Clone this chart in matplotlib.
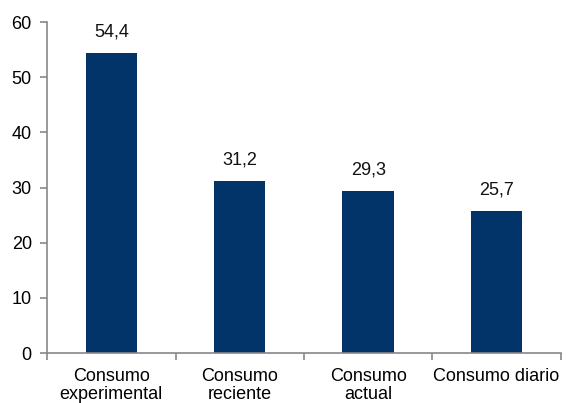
import numpy as np
import matplotlib
matplotlib.use("Agg")
import matplotlib.pyplot as plt

categories = ["Consumo\nexperimental", "Consumo\nreciente", "Consumo\nactual", "Consumo diario"]
values = [54.4, 31.2, 29.3, 25.7]
value_labels = ["54,4", "31,2", "29,3", "25,7"]

plt.rcParams['font.family'] = ['Liberation Sans', 'DejaVu Sans']

fig = plt.figure(figsize=(5.74, 4.03), dpi=100)
ax = fig.add_axes([0.082, 0.124, 0.895, 0.821])

x = np.arange(len(categories))
bars = ax.bar(x, values, width=0.40, color='#02346a', zorder=2)

for b, lbl in zip(bars, value_labels):
    ax.annotate(lbl, (b.get_x() + b.get_width() / 2, b.get_height()),
                xytext=(0, 9), textcoords='offset points',
                ha='center', va='bottom', fontsize=13, color='#111111')

ax.set_xlim(-0.5, len(categories) - 0.5)
ax.set_ylim(0, 60)
ax.set_yticks(np.arange(0, 61, 10))
ax.set_xticks(x)
ax.set_xticklabels(categories, fontsize=13, linespacing=1.12, va='top')
ax.set_xticks(np.arange(-0.5, len(categories), 1), minor=True)

ax.tick_params(axis='x', which='major', length=0, pad=10.5)
ax.tick_params(axis='x', which='minor', length=5, width=1.2, color='#888888')
ax.tick_params(axis='y', length=5, width=1.2, color='#888888', pad=6, labelsize=13)

for side in ['top', 'right']:
    ax.spines[side].set_visible(False)
for side in ['left', 'bottom']:
    ax.spines[side].set_color('#888888')
    ax.spines[side].set_linewidth(1.2)

fig.savefig("out.png", dpi=100)
